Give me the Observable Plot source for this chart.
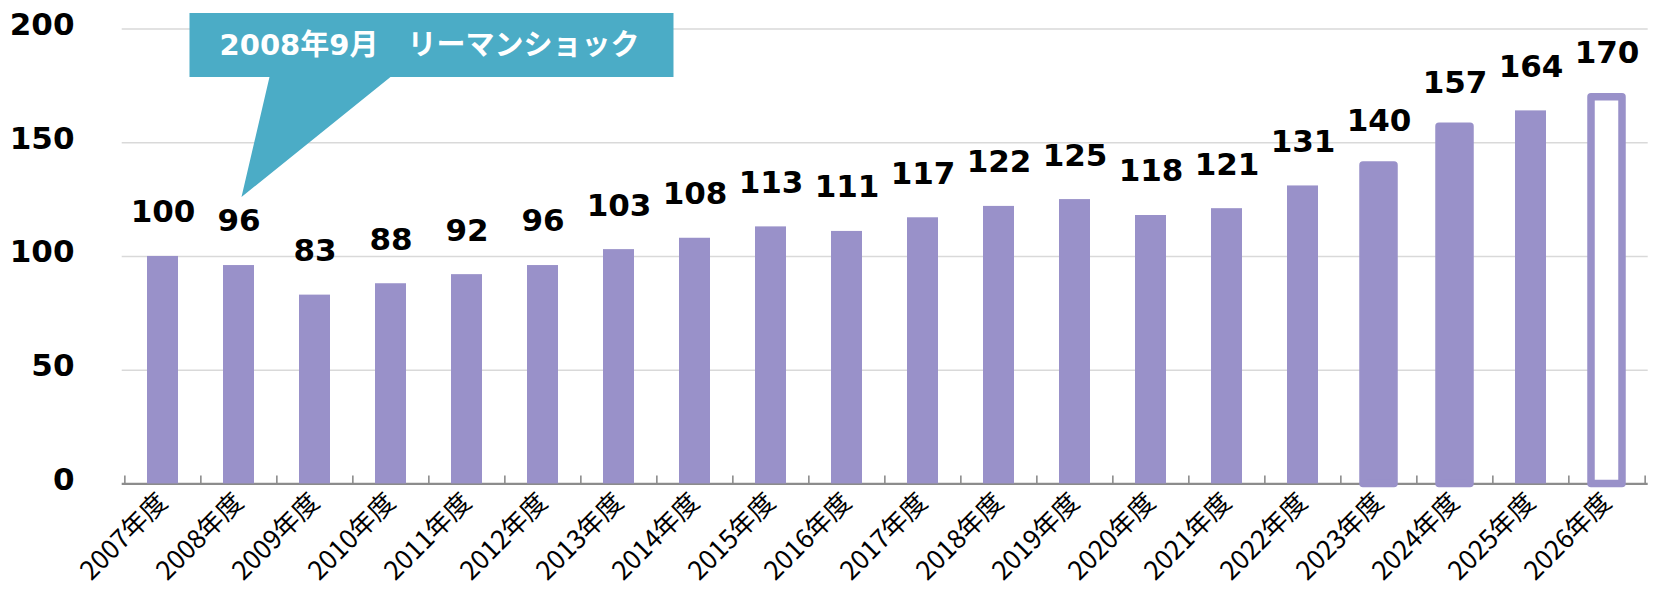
<!DOCTYPE html>
<html>
<head>
<meta charset="utf-8">
<script src="https://cdn.jsdelivr.net/npm/d3@7"></script>
<script src="https://cdn.jsdelivr.net/npm/@observablehq/plot@0.6"></script>
<style>
  html, body { margin: 0; padding: 0; background: #fff; }
  #chart { width: 1656px; height: 590px; }
</style>
</head>
<body>
<div id="chart"></div>
<script>
// ---- data ----
const years = ["2007年度","2008年度","2009年度","2010年度","2011年度","2012年度","2013年度","2014年度","2015年度","2016年度","2017年度","2018年度","2019年度","2020年度","2021年度","2022年度","2023年度","2024年度","2025年度","2026年度"];
const values = [100, 96, 83, 88, 92, 96, 103, 108, 113, 111, 117, 122, 125, 118, 121, 131, 140, 157, 164, 170];
const outlinedYears = ["2023年度", "2024年度"];
const hollowYears = ["2026年度"];
const yTicks = [0, 50, 100, 150, 200];
const calloutYear = "2008年度";
const calloutText = "2008年9月\u3000リーマンショック";

const data = years.map((year, i) => ({year, value: values[i]}));

// ---- layout ----
const W = 1656, H = 590;
const ml = 121.7, mr = 8.3, mt = 28.5, mb = 106.6;
const step = (W - ml - mr) / years.length;
const pInner = 0.594;
const barColor = "#9991c9";
const calloutColor = "#4bacc6";

function callout(index, scales) {
  const i = years.indexOf(calloutYear);
  const bw = step * (1 - pInner);
  const tx = scales.x(calloutYear) + bw / 2 + 3;
  const ty = scales.y(values[i]) - 68;
  const boxL = tx - 52, boxR = tx + 432, boxT = ty - 184, boxB = ty - 120;
  const g = d3.create("svg:g");
  g.append("path")
    .attr("d", `M${boxL},${boxT}H${boxR}V${boxB}H${tx + 149}L${tx},${ty}L${tx + 28},${boxB}H${boxL}Z`)
    .attr("fill", calloutColor);
  g.append("text")
    .attr("x", (boxL + boxR) / 2 - 2)
    .attr("y", (boxT + boxB) / 2)
    .attr("dy", "0.36em")
    .attr("text-anchor", "middle")
    .attr("fill", "white")
    .attr("font-weight", "bold")
    .attr("font-size", 29)
    .attr("font-family", "'DejaVu Sans', 'Noto Sans CJK JP', sans-serif")
    .text(calloutText);
  return g.node();
}

const chart = Plot.plot({
  width: W,
  height: H,
  marginLeft: ml,
  marginRight: mr,
  marginTop: mt,
  marginBottom: mb,
  style: {background: "white", overflow: "visible", color: "black"},
  x: {domain: years, paddingInner: pInner, paddingOuter: pInner / 2, label: null},
  y: {domain: [0, 200], label: null},
  marks: [
    Plot.gridY(yTicks.filter(d => d > 0), {stroke: "#d9d9d9", strokeOpacity: 1, strokeWidth: 1.6}),
    Plot.axisY(yTicks, {
      tickSize: 0, tickPadding: 47.7, fontSize: 31, fontWeight: "bold",
      fontFamily: "'DejaVu Sans', sans-serif", dy: -4, label: null
    }),
    Plot.axisX({
      tickSize: 0, tickRotate: -45, tickPadding: 14, fontSize: 26,
      fontFamily: "'Noto Sans CJK JP', sans-serif", label: null
    }),
    Plot.ruleY([0], {stroke: "#8c8c8c", strokeWidth: 2.2}),
    Plot.ruleX(years, {x: d => d, y1: 0, y2: 3.5, dx: -step / 2, stroke: "#8c8c8c", strokeWidth: 1.6}),
    Plot.ruleX([years[years.length - 1]], {x: d => d, y1: 0, y2: 3.5, dx: step / 2, stroke: "#8c8c8c", strokeWidth: 1.6}),
    Plot.barY(data.filter(d => !outlinedYears.includes(d.year) && !hollowYears.includes(d.year)),
      {x: "year", y: "value", fill: barColor}),
    Plot.barY(data.filter(d => outlinedYears.includes(d.year)),
      {x: "year", y: "value", fill: barColor, stroke: barColor, strokeWidth: 7.5, strokeLinejoin: "round"}),
    Plot.barY(data.filter(d => hollowYears.includes(d.year)),
      {x: "year", y: "value", fill: "white", stroke: barColor, strokeWidth: 7.5, strokeLinejoin: "round"}),
    Plot.text(data, {
      x: "year", y: "value", text: d => String(d.value), dy: -44,
      fontSize: 31, fontWeight: "bold", fill: "black",
      fontFamily: "'DejaVu Sans', sans-serif"
    }),
    callout
  ]
});

document.getElementById("chart").appendChild(chart);
</script>
</body>
</html>
